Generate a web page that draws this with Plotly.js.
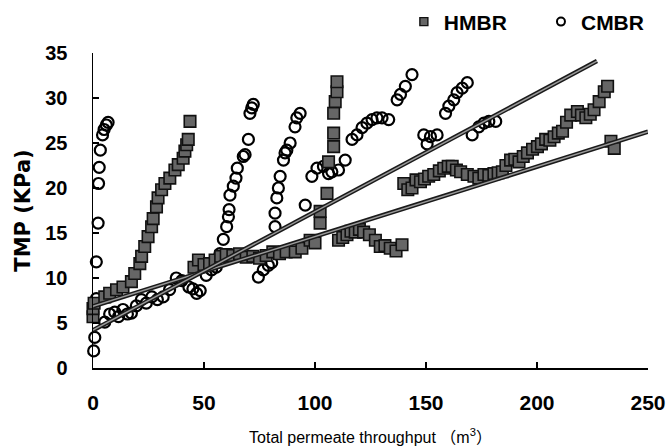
<!DOCTYPE html>
<html>
<head>
<meta charset="utf-8">
<script src="https://cdn.plot.ly/plotly-3.0.1.min.js"></script>
<style>html,body{margin:0;padding:0;background:#fff;}#chart{width:672px;height:448px;}</style>
</head>
<body>
<div id="chart"></div>
<script>
// HMBR data (throughput m3, TMP kPa)
const hmbrX = [0,0,0.5,5.3,7.5,10.6,13.5,17.3,18.8,21.1,21.9,23.3,24.8,26.4,27.1,28.6,29.3,30.9,32.4,34.6,36.9,38.4,40.6,41.4,42.2,42.9,43.7,
  45.5,47.5,50,52.5,55,57.5,60,63,66,69,72,75,78,81,84,87,91.1,94.1,97.8,100,102.3,102.3,105.4,106.1,108.4,108.4,108.4,109.1,109.9,109.9,
  110.6,112.5,114.4,116.2,118.1,120,121.9,124.5,127.2,129.4,131.5,133.9,136.5,139.2,
  140,141.8,143.7,145.5,147.5,149.3,151.2,153.5,156,158,160,161.8,163.7,165.6,168.6,171.6,173.8,176.1,178.3,180.6,182.5,184.4,186,188.1,190,191.9,193.8,195.7,198,200.2,202,203.9,205.8,207.7,209.6,211.5,213.3,215.2,218.2,220,222,224,225.7,228,230.3,231.8,
  233.3,234.8];
const hmbrY = [5.7,6.6,7.2,7.9,8.3,8.7,9.0,9.6,10.5,11.6,12.4,13.5,14.6,15.7,16.6,17.9,18.9,19.8,20.5,21.1,22.0,22.6,23.3,24.1,24.8,25.4,27.4,
  11.2,12.0,11.5,11.6,12.0,12.4,12.6,12.5,12.7,12.3,12.4,12.2,12.5,12.9,12.7,12.9,12.9,13.3,14.2,13.9,16.1,17.4,19.4,22.9,24.6,26.1,28.3,29.6,30.7,31.8,
  14.2,14.5,14.8,15.2,15.1,15.4,15.1,14.8,14.2,13.5,13.6,13.3,13.0,13.7,
  20.5,19.8,20.0,20.9,20.7,21.0,21.3,21.5,21.9,22.2,22.4,22.4,22.0,21.8,21.5,21.3,21.1,21.5,21.4,21.6,21.7,21.8,22.5,23.1,23.2,22.9,23.5,23.9,24.3,24.6,24.9,25.4,25.3,25.7,26.1,26.3,27.3,28.1,28.5,28.1,27.8,28.2,28.7,29.6,30.7,31.3,
  25.2,24.4];

// CMBR data
const cmbrX = [0.3,0.8,1.5,1.5,2.3,2.5,2.8,3.3,4.3,5.0,6.0,6.8,
  5.3,7.5,9.8,11.5,13.5,15.5,17.3,19.5,21.8,24,26.5,29,31.6,34.5,37.5,40,43.2,45,46.7,48.3,51,53.4,55.5,57.2,58.7,60.2,61,61.3,61.7,63.2,64.4,65,67.7,68.5,70,70.7,71.5,72.2,
  74.5,76.7,79,80.5,82,82,82.8,83.5,84.3,85.8,86.5,87.3,88.8,91,91.8,93.3,
  95.6,98.6,100.9,103.8,106.1,107.6,110.6,113.6,116.7,118.9,121.2,123.4,125.7,127.9,130.2,133.2,137,138.5,140.7,143.7,
  149,150.5,152,155,158.8,160.3,162.5,164,166.3,168.6,
  170.8,173.8,176.1,178.3,181.4];
const cmbrY = [1.9,3.4,7.7,11.8,16.1,20.5,22.3,24.2,25.9,26.5,27.0,27.3,
  5.1,6.0,6.2,5.7,6.5,6.0,6.1,6.9,7.6,7.2,7.9,7.6,7.9,8.7,10.0,9.7,9.0,8.8,8.3,8.6,10.3,10.9,11.2,12.7,14.3,15.7,16.8,17.6,19.2,20.2,21.1,22.2,23.5,23.7,25.4,28.3,28.9,29.3,
  10.1,10.9,11.4,11.7,15.7,17.2,18.9,20.0,21.3,23.1,23.9,24.2,25.0,26.8,27.8,28.3,
  18.1,21.3,22.2,22.4,21.6,21.8,22.0,23.1,25.4,25.9,26.7,27.2,27.6,27.8,27.8,27.6,29.8,30.4,31.3,32.6,
  25.9,24.9,25.7,25.9,28.3,29.1,29.8,30.6,31.1,31.7,
  25.9,26.8,27.2,27.4,27.4];

// Trend line end points
const hmbrFitX = [0, 250];
const hmbrFitY = [6.85, 26.25];
const cmbrFitX = [0, 227];
const cmbrFitY = [4.2, 34.1];

const xTicks = [0, 50, 100, 150, 200, 250];
const yTicks = [0, 5, 10, 15, 20, 25, 30, 35];

const FONT = 'Liberation Sans, Arial, sans-serif';
const TITLEFONT = 'Liberation Sans, Noto Sans CJK JP, sans-serif';

const traces = [
  {x: cmbrX, y: cmbrY, type: 'scatter', mode: 'markers', name: 'CMBR', showlegend: false,
   marker: {symbol: 'circle-open', size: 11, color: '#000', line: {width: 2.2, color: '#000'}}, cliponaxis: false},
  {x: hmbrX, y: hmbrY, type: 'scatter', mode: 'markers', name: 'HMBR', showlegend: false,
   marker: {symbol: 'square', size: 11.5, color: '#666', line: {width: 1.6, color: '#111'}}, cliponaxis: false},
  {x: hmbrFitX, y: hmbrFitY, type: 'scatter', mode: 'lines', showlegend: false, hoverinfo: 'skip',
   line: {color: '#1a1a1a', width: 4.5}, cliponaxis: false},
  {x: hmbrFitX, y: hmbrFitY, type: 'scatter', mode: 'lines', showlegend: false, hoverinfo: 'skip',
   line: {color: '#9a9a9a', width: 1.5}, cliponaxis: false},
  {x: cmbrFitX, y: cmbrFitY, type: 'scatter', mode: 'lines', showlegend: false, hoverinfo: 'skip',
   line: {color: '#1a1a1a', width: 4.5}, cliponaxis: false},
  {x: cmbrFitX, y: cmbrFitY, type: 'scatter', mode: 'lines', showlegend: false, hoverinfo: 'skip',
   line: {color: '#9a9a9a', width: 1.5}, cliponaxis: false},
  // legend entries
  {x: [null], y: [null], type: 'scatter', mode: 'markers', name: 'HMBR', legend: 'legend',
   marker: {symbol: 'square', size: 8, color: '#666', line: {width: 1.4, color: '#111'}}},
  {x: [null], y: [null], type: 'scatter', mode: 'markers', name: 'CMBR', legend: 'legend2',
   marker: {symbol: 'circle-open', size: 8, color: '#000', line: {width: 2, color: '#000'}}}
];

const legFont = {family: FONT, size: 21, weight: 'bold', color: '#000'};

const layout = {
  width: 672, height: 448,
  margin: {l: 93, r: 24, t: 53, b: 80},
  paper_bgcolor: '#fff', plot_bgcolor: '#fff',
  font: {family: FONT, color: '#000'},
  showlegend: true,
  legend: {orientation: 'h', xref: 'container', yref: 'container', x: 0.601, y: 0.951,
           xanchor: 'left', yanchor: 'middle', font: legFont, bgcolor: 'rgba(0,0,0,0)', itemwidth: 30},
  legend2: {orientation: 'h', xref: 'container', yref: 'container', x: 0.805, y: 0.951,
           xanchor: 'left', yanchor: 'middle', font: legFont, bgcolor: 'rgba(0,0,0,0)', itemwidth: 30},
  xaxis: {range: [0, 250], tickvals: xTicks, ticktext: xTicks.map(String),
          showline: true, linecolor: '#000', linewidth: 1.5, ticks: 'inside', ticklen: 6, tickwidth: 1.5, tickcolor: '#000',
          showgrid: false, zeroline: false, ticklabelstandoff: 15,
          tickfont: {family: FONT, size: 21, weight: 'bold', color: '#000'},
          title: {text: 'Total permeate throughput （m<sup>3</sup>）', standoff: 19,
                  font: {family: TITLEFONT, size: 16, color: '#000'}}},
  yaxis: {range: [0, 35], tickvals: yTicks, ticktext: yTicks.map(String),
          showline: true, linecolor: '#000', linewidth: 1.5, ticks: 'inside', ticklen: 6, tickwidth: 1.5, tickcolor: '#000',
          showgrid: false, zeroline: false, ticklabelstandoff: 20,
          tickfont: {family: FONT, size: 20, weight: 'bold', color: '#000'},
          title: {text: 'TMP (KPa)', standoff: 9,
                  font: {family: 'DejaVu Sans, sans-serif', size: 21, weight: 'bold', color: '#000'}}}
};

Plotly.newPlot('chart', traces, layout, {displayModeBar: false, staticPlot: true});
</script>
</body>
</html>
